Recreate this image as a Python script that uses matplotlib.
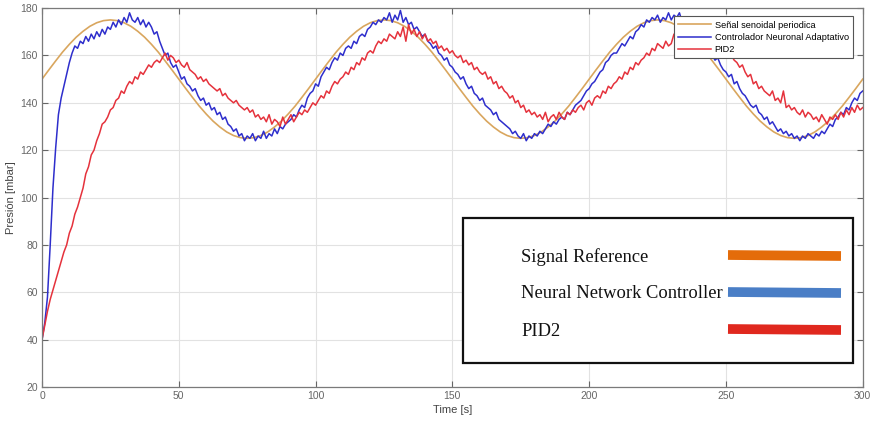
import numpy as np
import matplotlib
matplotlib.use("Agg")
import matplotlib.pyplot as plt
from matplotlib.patches import Rectangle
from matplotlib.lines import Line2D

# ---- data -------------------------------------------------------------
# reference sinusoid, sampled every 2.5 s
t_ref = np.arange(0, 300.1, 2.5)
ref_vals = [
    150.0, 153.9, 157.7, 161.4, 164.7, 167.7, 170.2, 172.3, 173.8, 174.7,
    175.0, 174.7, 173.8, 172.3, 170.2, 167.7, 164.7, 161.4, 157.7, 153.9,
    150.0, 146.1, 142.3, 138.6, 135.3, 132.3, 129.8, 127.7, 126.2, 125.3,
    125.0, 125.3, 126.2, 127.7, 129.8, 132.3, 135.3, 138.6, 142.3, 146.1,
    150.0, 153.9, 157.7, 161.4, 164.7, 167.7, 170.2, 172.3, 173.8, 174.7,
    175.0, 174.7, 173.8, 172.3, 170.2, 167.7, 164.7, 161.4, 157.7, 153.9,
    150.0, 146.1, 142.3, 138.6, 135.3, 132.3, 129.8, 127.7, 126.2, 125.3,
    125.0, 125.3, 126.2, 127.7, 129.8, 132.3, 135.3, 138.6, 142.3, 146.1,
    150.0, 153.9, 157.7, 161.4, 164.7, 167.7, 170.2, 172.3, 173.8, 174.7,
    175.0, 174.7, 173.8, 172.3, 170.2, 167.7, 164.7, 161.4, 157.7, 153.9,
    150.0, 146.1, 142.3, 138.6, 135.3, 132.3, 129.8, 127.7, 126.2, 125.3,
    125.0, 125.3, 126.2, 127.7, 129.8, 132.3, 135.3, 138.6, 142.3, 146.1,
    150.0,
]

# measured responses, sampled every 1 s
t_meas = np.arange(0, 301, 1)
neural_vals = [
    40, 47, 58, 80, 104, 121, 135, 142, 147, 152,
    157, 161, 164, 163, 166, 165, 168, 166, 169, 167,
    170, 168, 171, 169, 172, 171, 174, 172, 175, 173,
    176, 174, 178, 175, 174, 176, 173, 175, 172, 174,
    172, 169, 170, 166, 163, 160, 161, 157, 155, 156,
    153, 150, 151, 148, 147, 145, 146, 143, 141, 142,
    139, 140, 137, 138, 135, 136, 133, 134, 131, 130,
    128, 129, 126, 127, 124, 126, 125, 127, 124, 126,
    125, 128, 125, 127, 126, 129, 127, 130, 129, 131,
    132, 133, 135, 134, 137, 139, 138, 142, 144, 145,
    148, 147, 151, 153, 155, 154, 157, 159, 158, 161,
    160, 163, 164, 163, 166, 165, 168, 169, 168, 171,
    172, 174, 173, 175, 174, 176, 175, 178, 174, 177,
    175, 179, 174, 176, 173, 174, 171, 172, 170, 168,
    169, 166, 165, 163, 164, 161, 160, 158, 159, 156,
    155, 153, 152, 150, 151, 148, 146, 147, 144, 143,
    141, 142, 139, 138, 137, 135, 136, 133, 132, 131,
    130, 129, 127, 128, 126, 125, 127, 124, 126, 125,
    127, 126, 128, 127, 129, 131, 130, 132, 131, 133,
    134, 133, 136, 135, 137, 139, 140, 141, 143, 145,
    146, 148, 149, 151, 153, 154, 157, 158, 160, 161,
    161, 163, 165, 164, 166, 168, 167, 170, 171, 173,
    172, 175, 174, 176, 175, 177, 174, 176, 175, 178,
    175, 177, 176, 178, 174, 175, 173, 171, 170, 167,
    168, 165, 164, 162, 161, 160, 158, 159, 156, 154,
    153, 151, 152, 148, 149, 146, 144, 143, 141, 139,
    138, 139, 136, 135, 133, 134, 131, 132, 130, 128,
    129, 127, 128, 126, 127, 125, 126, 124, 126, 125,
    127, 126, 125, 127, 126, 128, 127, 129, 131, 130,
    133, 134, 136, 135, 138, 137, 140, 142, 141, 144,
    145,
]
pid2_vals = [
    40, 46, 52, 57, 61, 65, 69, 73, 77, 80,
    85, 88, 93, 96, 100, 104, 110, 113, 118, 120,
    124, 127, 131, 132, 134, 137, 138, 141, 142, 145,
    144, 147, 149, 148, 151, 150, 153, 152, 154, 156,
    155, 157, 158, 157, 159, 161, 158, 160, 159, 157,
    158, 156, 155, 157, 154, 153, 152, 150, 151, 149,
    150, 148, 147, 146, 145, 146, 143, 144, 142, 141,
    140, 141, 139, 138, 137, 138, 136, 137, 134, 135,
    133, 134, 132, 135, 131, 133, 132, 130, 134, 131,
    133, 135, 132, 134, 136, 135, 137, 136, 138, 140,
    139, 141, 143, 142, 145, 144, 147, 149, 148, 150,
    151, 153, 152, 155, 154, 157, 156, 159, 158, 161,
    162, 161, 164, 166, 165, 167, 166, 169, 168, 167,
    170, 168, 172, 166, 173, 169, 171, 168, 170, 167,
    169, 166, 167, 165, 166, 163, 164, 162, 163, 161,
    162, 160, 159, 160, 157, 158, 156, 157, 154, 155,
    153, 152, 153, 150, 151, 148, 149, 146, 147, 145,
    144, 142, 143, 140, 141, 138, 139, 136, 137, 135,
    136, 134, 135, 133, 136, 132, 134, 135, 133, 136,
    134, 133, 136, 135, 137, 136, 138, 139, 137, 140,
    141, 139, 142, 143, 142, 145, 144, 147, 146, 148,
    149, 151, 150, 153, 152, 155, 154, 157, 156, 158,
    159, 161, 160, 163, 162, 165, 164, 163, 166, 164,
    165, 169, 166, 167, 168, 166, 169, 167, 168, 166,
    167, 165, 166, 164, 163, 164, 162, 161, 162, 160,
    161, 159, 160, 158, 157, 155, 156, 153, 151, 152,
    148, 149, 146, 147, 145, 144, 143, 145, 141, 142,
    140, 145, 138, 139, 137, 138, 136, 135, 137, 134,
    136, 135, 133, 134, 132, 135, 133, 131, 134, 133,
    135, 133, 136, 134, 137, 135, 138, 136, 139, 137,
    138,
]

series_labels = ["Señal senoidal periodica",
                 "Controlador Neuronal Adaptativo",
                 "PID2"]
inset_labels = ["Signal Reference", "Neural Network Controller", "PID2"]
x_ticks = [0, 50, 100, 150, 200, 250, 300]
y_ticks = [20, 40, 60, 80, 100, 120, 140, 160, 180]

# ---- figure -----------------------------------------------------------
plt.rcParams["font.family"] = ["Liberation Sans", "DejaVu Sans"]
fig = plt.figure(figsize=(8.75, 4.24), dpi=100)
ax = fig.add_axes([0.048, 0.087, 0.938, 0.894])

c_ref = "#D9A65E"
c_nn = "#2E2ECC"
c_pid = "#E5323C"

ax.plot(t_ref, ref_vals, color=c_ref, lw=1.2, label=series_labels[0])
ax.plot(t_meas, neural_vals, color=c_nn, lw=1.1, label=series_labels[1])
ax.plot(t_meas, pid2_vals, color=c_pid, lw=1.1, label=series_labels[2])

ax.set_xlim(0, 300)
ax.set_ylim(20, 180)
ax.set_xticks(x_ticks)
ax.set_yticks(y_ticks)
ax.grid(True, color="#E2E2E2", lw=0.8)
ax.set_axisbelow(True)
ax.tick_params(direction="in", length=4, width=0.8, colors="#666666",
               labelsize=7.5, top=True, right=True, pad=3)
for sp in ax.spines.values():
    sp.set_color("#7A7A7A")
    sp.set_linewidth(0.9)
ax.set_xlabel("Time [s]", fontsize=8, color="#444444", labelpad=3)
ax.set_ylabel("Presión [mbar]", fontsize=8, color="#444444", labelpad=3)

leg = ax.legend(loc="upper right", bbox_to_anchor=(0.988, 0.978),
                fontsize=6.6, frameon=True, fancybox=False, framealpha=1,
                edgecolor="#555555", handlelength=3.6, handletextpad=0.4,
                borderpad=0.45, labelspacing=0.35, borderaxespad=0)
leg.get_frame().set_linewidth(0.8)

# ---- inset key box (figure pixel coordinates) ------------------------
W, H = 875.0, 424.0
def fx(px):
    return px / W
def fy(py):
    return 1 - py / H

box = Rectangle((fx(463), fy(363)), fx(853) - fx(463), fy(218) - fy(363),
                transform=fig.transFigure, facecolor="white",
                edgecolor="#111111", lw=1.6, zorder=5)
fig.patches.append(box)

inset_colors = ["#E46C0A", "#4A7EC6", "#E0281E"]
rows = [257, 294, 331]
for lab, col, ry in zip(inset_labels, inset_colors, rows):
    fig.text(fx(521), fy(ry), lab, family="Liberation Serif", fontsize=13.3,
             color="#111111", va="center", ha="left", zorder=6)
    fig.lines.append(Line2D([fx(728), fx(841)], [fy(ry - 2), fy(ry - 1)],
                            transform=fig.transFigure, color=col, lw=7,
                            solid_capstyle="butt", zorder=6))

fig.savefig("out.png", dpi=100)
